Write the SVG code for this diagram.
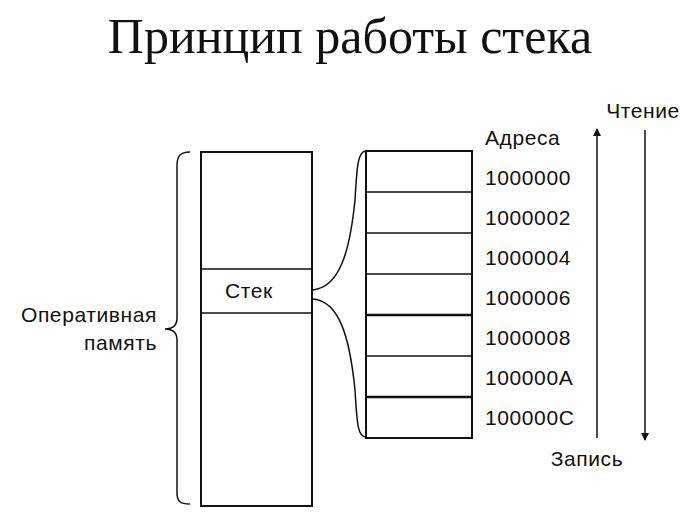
<svg xmlns="http://www.w3.org/2000/svg" width="700" height="518" viewBox="0 0 700 518">
<style>
.t{font-family:"Liberation Sans",Arial,sans-serif;font-size:21px;letter-spacing:0.6px;fill:#111}
.box{fill:none;stroke:#111;stroke-width:2}
.ln{stroke:#111;stroke-width:1.5;fill:none}
.thk{stroke:#111;stroke-width:2.5;fill:none}
</style>
<defs>
<marker id="ah" markerWidth="8" markerHeight="10" refX="7" refY="4" orient="auto" markerUnits="userSpaceOnUse">
<path d="M0,0 L8,4 L0,8 Z" fill="#111"/>
</marker>
</defs>
<rect width="700" height="518" fill="#fff"/>
<text x="350" y="53" text-anchor="middle" style="font-family:'Liberation Serif','Times New Roman',serif;font-size:50px;fill:#111">Принцип работы стека</text>

<g id="memory">
<rect class="box" x="201" y="152" width="111" height="354"/>
<line class="ln" x1="201" y1="269" x2="312" y2="269"/>
<line class="ln" x1="201" y1="313" x2="312" y2="313"/>
<text class="t" x="249" y="298" text-anchor="middle">Стек</text>
</g>

<g id="ram-label">
<path class="ln" d="M190,152 C180,152 177,156 177,166 L177,318 C177,326 172,329 165,329 C172,329 177,332 177,340 L177,492 C177,502 180,504 190,504"/>
<text class="t" x="157" y="322" text-anchor="end">Оперативная</text>
<text class="t" x="157" y="350" text-anchor="end">память</text>
</g>

<g id="stack">
<rect class="box" x="366" y="151" width="106" height="287"/>
<line class="ln" x1="366" y1="192" x2="472" y2="192"/>
<line class="ln" x1="366" y1="233" x2="472" y2="233"/>
<line class="ln" x1="366" y1="274" x2="472" y2="274"/>
<line class="thk" x1="366" y1="315" x2="472" y2="315"/>
<line class="ln" x1="366" y1="356" x2="472" y2="356"/>
<line class="thk" x1="366" y1="397" x2="472" y2="397"/>
</g>

<g id="addresses">
<text class="t" x="485" y="145">Адреса</text>
<text class="t" x="485" y="185">1000000</text>
<text class="t" x="485" y="225">1000002</text>
<text class="t" x="485" y="265">1000004</text>
<text class="t" x="485" y="305">1000006</text>
<text class="t" x="485" y="345">1000008</text>
<text class="t" x="485" y="385">100000A</text>
<text class="t" x="485" y="425">100000C</text>
</g>

<g id="read-label"><text class="t" x="643" y="118" text-anchor="middle">Чтение</text></g>
<g id="write-label"><text class="t" x="587" y="466" text-anchor="middle">Запись</text></g>

<g id="connectors">
<path class="ln" d="M312,290 C340,288 350,250 355,200 C357,165 358,151 366,151"/>
<path class="ln" d="M312,299 C340,300 350,340 355,390 C357,425 358,437 366,437"/>
<line class="ln" x1="597" y1="438" x2="597" y2="129" marker-end="url(#ah)"/>
<line class="ln" x1="645" y1="130" x2="645" y2="440" marker-end="url(#ah)"/>
</g>
</svg>
